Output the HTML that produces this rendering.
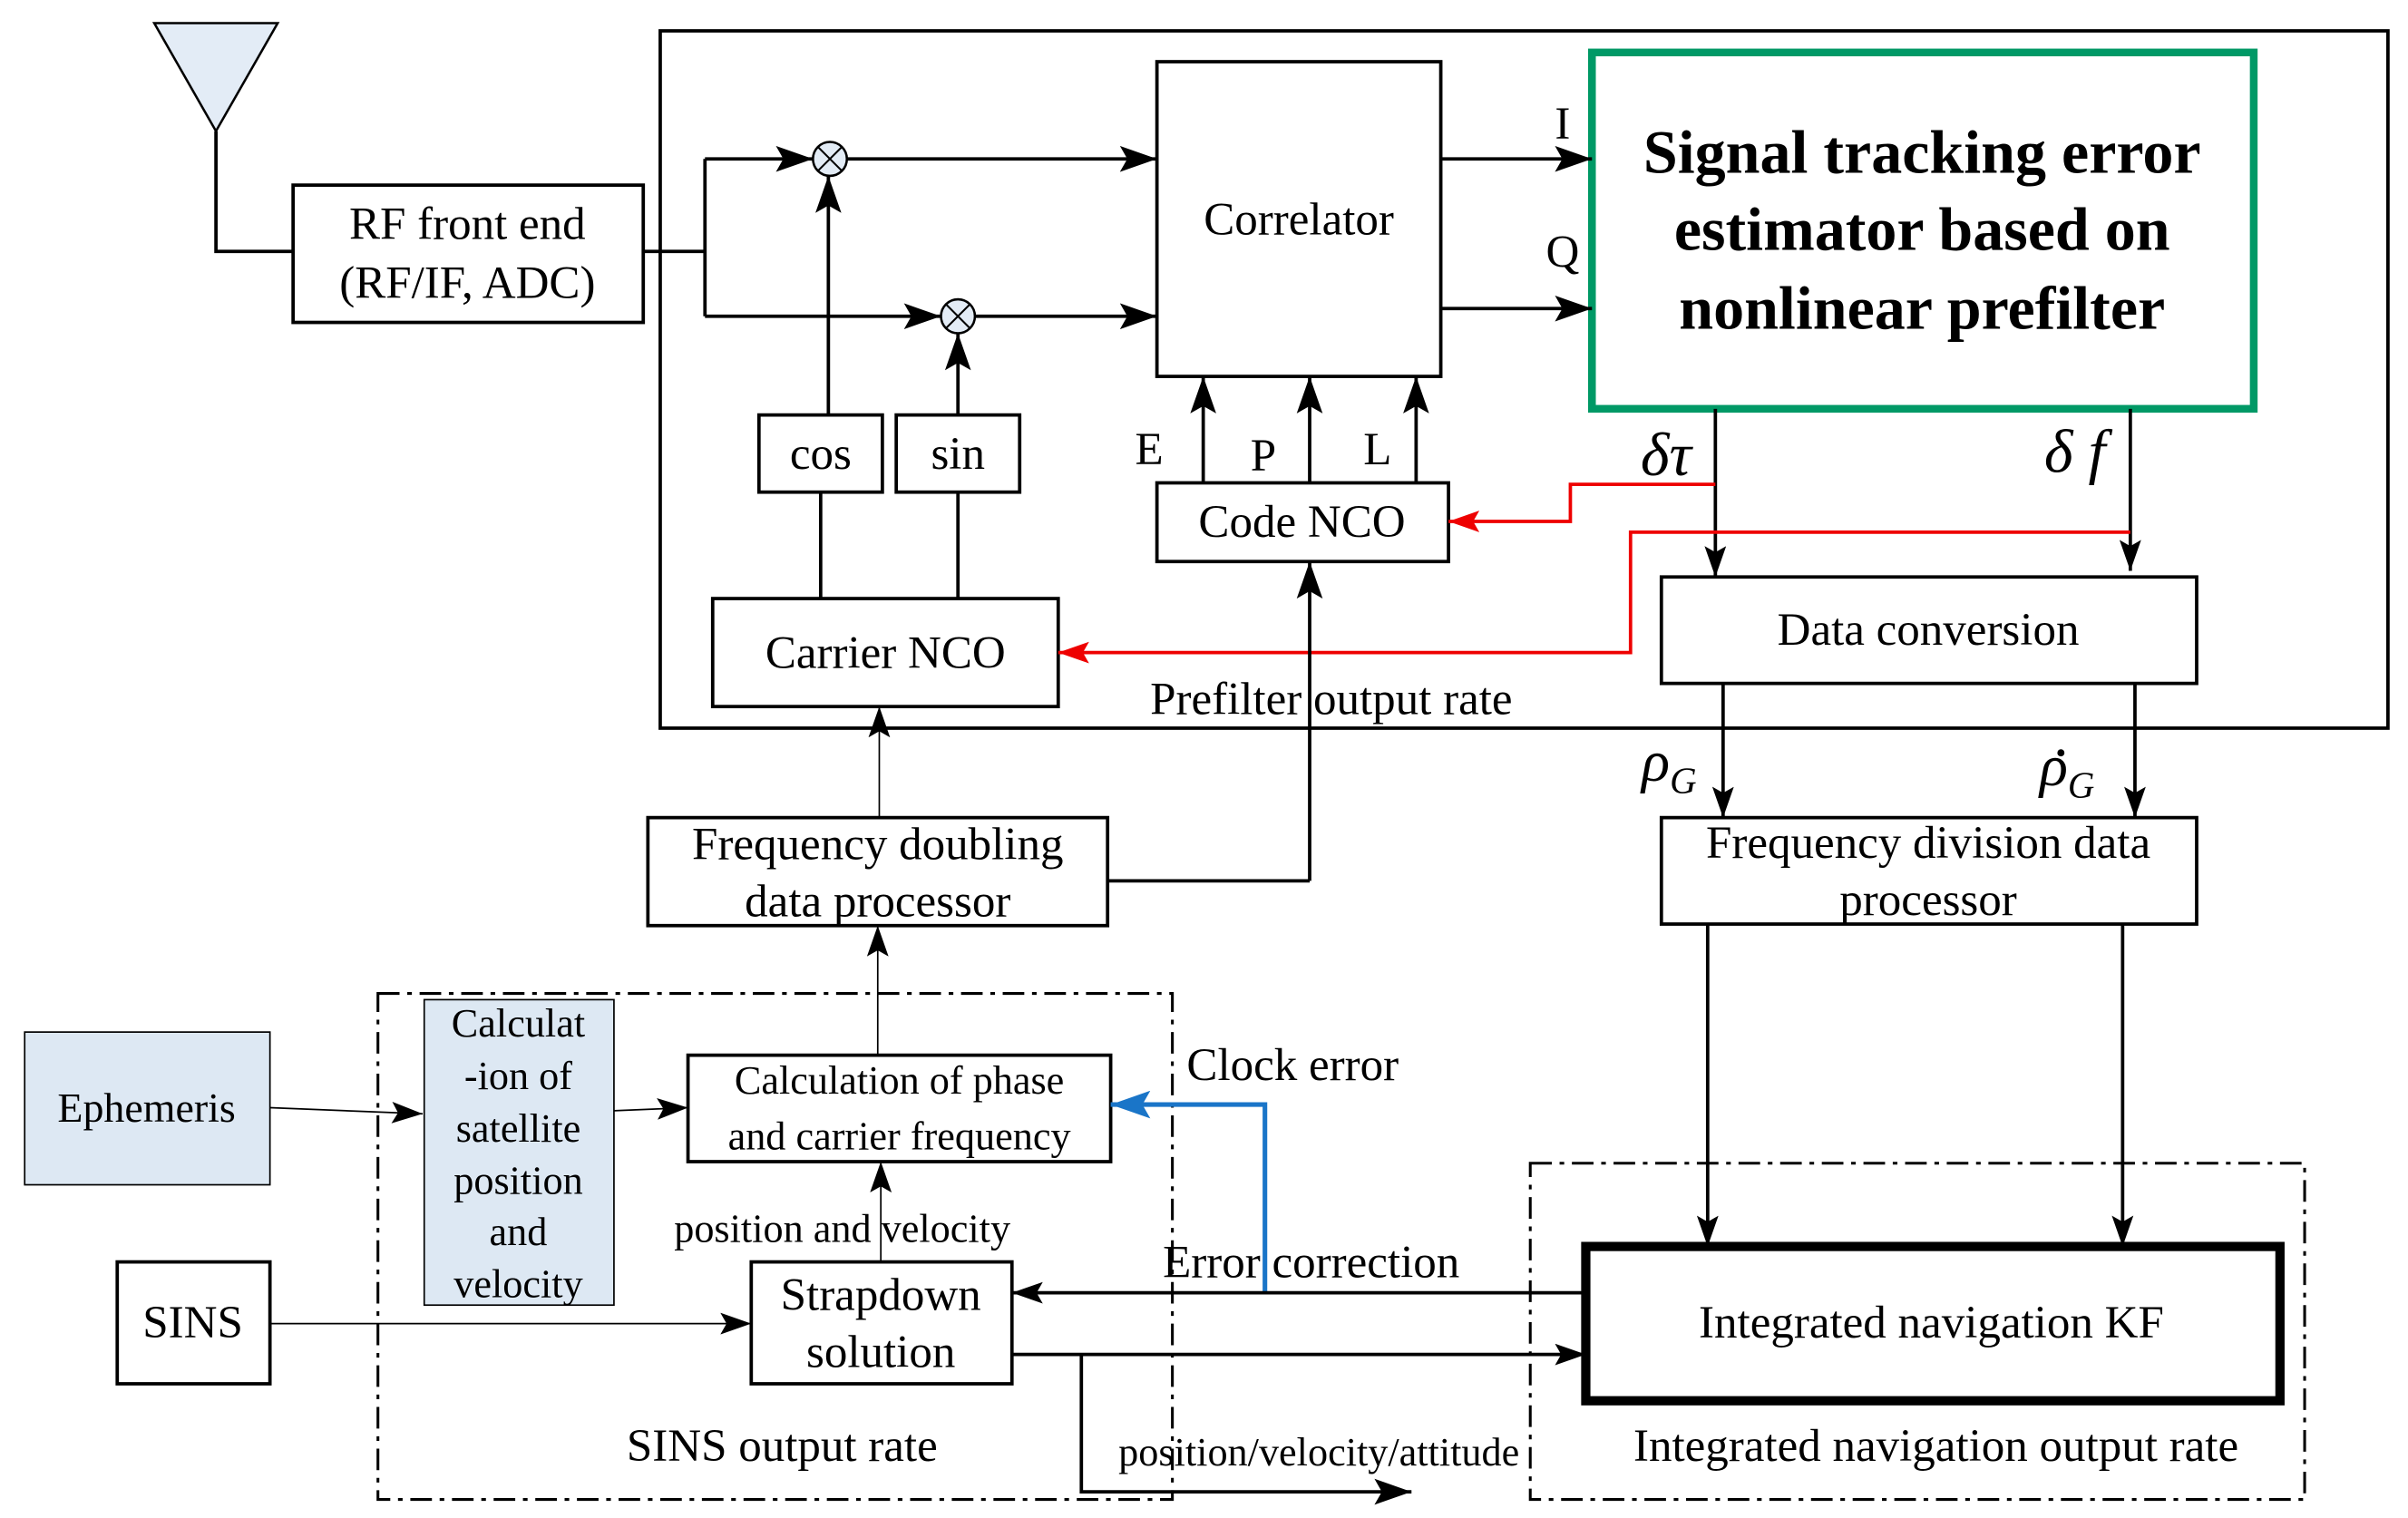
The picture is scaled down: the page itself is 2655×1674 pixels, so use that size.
<!DOCTYPE html>
<html><head><meta charset="utf-8"><style>html,body{margin:0;padding:0;background:#fff}svg{display:block}</style></head><body>
<svg width="2655" height="1674" viewBox="0 0 1561 984" preserveAspectRatio="none" xmlns="http://www.w3.org/2000/svg" font-family="Liberation Serif, serif">
<defs>
<marker id="a" viewBox="0 0 20 14" refX="20" refY="7" markerWidth="24" markerHeight="17" markerUnits="userSpaceOnUse" orient="auto"><path d="M0,0 L20,7 L0,14 L4,7 Z" fill="#000"/></marker>
<marker id="s" viewBox="0 0 20 14" refX="20" refY="7" markerWidth="20" markerHeight="14" markerUnits="userSpaceOnUse" orient="auto"><path d="M0,0 L20,7 L0,14 L4,7 Z" fill="#000"/></marker>
<marker id="r" viewBox="0 0 20 14" refX="20" refY="7" markerWidth="20" markerHeight="14" markerUnits="userSpaceOnUse" orient="auto"><path d="M0,0 L20,7 L0,14 L4,7 Z" fill="#e00"/></marker>
<marker id="b" viewBox="0 0 20 14" refX="20" refY="7" markerWidth="26" markerHeight="18" markerUnits="userSpaceOnUse" orient="auto"><path d="M0,0 L20,7 L0,14 L4,7 Z" fill="#1a75c8"/></marker>
</defs>
<g fill="none" stroke="#000" stroke-width="2.2">
<polygon points="100,15 180,15 140,85" fill="#e3ecf6" stroke-width="1.5"/>
<polyline points="140,85 140,163 190,163"/>
<rect x="190" y="120" width="227" height="89"/>
<rect x="428" y="20" width="1120" height="452"/>
<line x1="417" y1="163" x2="457" y2="163"/>
<line x1="457" y1="103" x2="457" y2="205"/>
<line x1="457" y1="103" x2="527" y2="103" marker-end="url(#a)"/>
<line x1="457" y1="205" x2="610" y2="205" marker-end="url(#a)"/>
<circle cx="538" cy="103" r="11" fill="#e3ecf6" stroke-width="1.5"/>
<circle cx="621" cy="205" r="11" fill="#e3ecf6" stroke-width="1.5"/>
<path d="M530,95 L546,111 M546,95 L530,111 M613,197 L629,213 M629,197 L613,213" stroke-width="1.2"/>
<line x1="549" y1="103" x2="750" y2="103" marker-end="url(#a)"/>
<line x1="632" y1="205" x2="750" y2="205" marker-end="url(#a)"/>
<rect x="750" y="40" width="184" height="204"/>
<rect x="492" y="269" width="80" height="50"/>
<rect x="581" y="269" width="80" height="50"/>
<line x1="537" y1="269" x2="537" y2="114" marker-end="url(#a)"/>
<line x1="621" y1="269" x2="621" y2="216" marker-end="url(#a)"/>
<rect x="462" y="388" width="224" height="70"/>
<line x1="532" y1="319" x2="532" y2="388"/>
<line x1="621" y1="319" x2="621" y2="388"/>
<rect x="750" y="313" width="189" height="51"/>
<line x1="780" y1="313" x2="780" y2="244" marker-end="url(#a)"/>
<line x1="849" y1="313" x2="849" y2="244" marker-end="url(#a)"/>
<line x1="918" y1="313" x2="918" y2="244" marker-end="url(#a)"/>
<rect x="1032" y="34" width="429" height="231" stroke="#009966" stroke-width="5"/>
<line x1="934" y1="103" x2="1032" y2="103" marker-end="url(#a)"/>
<line x1="934" y1="200" x2="1032" y2="200" marker-end="url(#a)"/>
<line x1="1112" y1="265" x2="1112" y2="374" marker-end="url(#s)"/>
<line x1="1381" y1="265" x2="1381" y2="370" marker-end="url(#s)"/>
<polyline points="1112,314 1018,314 1018,338 939,338" stroke="#e00" marker-end="url(#r)"/>
<polyline points="1381,345 1057,345 1057,423 686,423" stroke="#e00" marker-end="url(#r)"/>
<rect x="1077" y="374" width="347" height="69"/>
<line x1="849" y1="571" x2="849" y2="364" marker-end="url(#a)"/>
<line x1="718" y1="571" x2="849" y2="571"/>
<rect x="420" y="530" width="298" height="70"/>
<line x1="570" y1="530" x2="570" y2="458" stroke-width="1" marker-end="url(#s)"/>
<line x1="1117" y1="443" x2="1117" y2="530" marker-end="url(#s)"/>
<line x1="1384" y1="443" x2="1384" y2="530" marker-end="url(#s)"/>
<rect x="1077" y="530" width="347" height="69"/>
<line x1="1107" y1="599" x2="1107" y2="808" marker-end="url(#s)"/>
<line x1="1376" y1="599" x2="1376" y2="808" marker-end="url(#s)"/>
<rect x="245" y="644" width="515" height="328" stroke-dasharray="14,5,3,5" stroke-width="1.8"/>
<rect x="992" y="754" width="502" height="218" stroke-dasharray="14,5,3,5" stroke-width="1.8"/>
<rect x="16" y="669" width="159" height="99" fill="#dde8f3" stroke-width="1"/>
<line x1="175" y1="718" x2="274" y2="722" stroke-width="1" marker-end="url(#s)"/>
<rect x="275" y="648" width="123" height="198" fill="#dde8f3" stroke-width="1"/>
<line x1="398" y1="720" x2="446" y2="718" stroke-width="1" marker-end="url(#s)"/>
<rect x="446" y="684" width="274" height="69"/>
<line x1="569" y1="684" x2="569" y2="600" stroke-width="1" marker-end="url(#s)"/>
<polyline points="820,838 820,716 720,716" stroke="#1a75c8" stroke-width="3" marker-end="url(#b)"/>
<rect x="487" y="818" width="169" height="79"/>
<line x1="571" y1="818" x2="571" y2="753" stroke-width="1" marker-end="url(#s)"/>
<rect x="76" y="818" width="99" height="79"/>
<line x1="175" y1="858" x2="487" y2="858" stroke-width="1" marker-end="url(#s)"/>
<rect x="1028" y="808" width="450" height="100" stroke-width="6"/>
<line x1="1028" y1="838" x2="656" y2="838" marker-end="url(#s)"/>
<line x1="656" y1="878" x2="1028" y2="878" marker-end="url(#s)"/>
<polyline points="701,878 701,967 915,967" marker-end="url(#a)"/>
</g>
<g font-size="30" text-anchor="middle" fill="#000">
<text x="303" y="155">RF front end</text>
<text x="303" y="193">(RF/IF, ADC)</text>
<text x="842" y="152">Correlator</text>
<text x="532" y="304">cos</text>
<text x="621" y="304">sin</text>
<text x="574" y="433">Carrier NCO</text>
<text x="844" y="348">Code NCO</text>
<text x="745" y="301">E</text>
<text x="819" y="305">P</text>
<text x="893" y="301">L</text>
<text x="1013" y="90">I</text>
<text x="1013" y="173">Q</text>
<g font-weight="bold" font-size="40"><text x="1246" y="112">Signal tracking error</text><text x="1246" y="162">estimator based on</text><text x="1246" y="213">nonlinear prefilter</text></g>
<text x="1080" y="308" font-style="italic" font-size="40">δτ</text>
<text x="1345" y="306" font-style="italic" font-size="40">δ f</text>
<text x="1250" y="418">Data conversion</text>
<text x="863" y="463">Prefilter output rate</text>
<text x="569" y="557">Frequency doubling</text>
<text x="569" y="594">data processor</text>
<text x="1082" y="506" font-style="italic" font-size="38">ρ<tspan font-size="24" dy="8">G</tspan></text>
<text x="1340" y="509" font-style="italic" font-size="38">ρ<tspan font-size="24" dy="8">G</tspan></text>
<circle cx="1336" cy="488" r="2.3" fill="#000"/>
<text x="1250" y="556">Frequency division data</text>
<text x="1250" y="593">processor</text>
<text x="95" y="727" font-size="27">Ephemeris</text>
<g font-size="26"><text x="336" y="672">Calculat</text><text x="336" y="706">-ion of</text><text x="336" y="740">satellite</text><text x="336" y="774">position</text><text x="336" y="807">and</text><text x="336" y="841">velocity</text>
<text x="583" y="709">Calculation of phase</text><text x="583" y="745">and carrier frequency</text>
<text x="546" y="805">position and velocity</text>
<text x="855" y="950">position/velocity/attitude</text></g>
<text x="838" y="700">Clock error</text>
<text x="571" y="849">Strapdown</text>
<text x="571" y="886">solution</text>
<text x="125" y="867">SINS</text>
<text x="850" y="828">Error correction</text>
<text x="1252" y="867">Integrated navigation KF</text>
<text x="507" y="947">SINS output rate</text>
<text x="1255" y="947">Integrated navigation output rate</text>
</g>
</svg>
</body></html>
